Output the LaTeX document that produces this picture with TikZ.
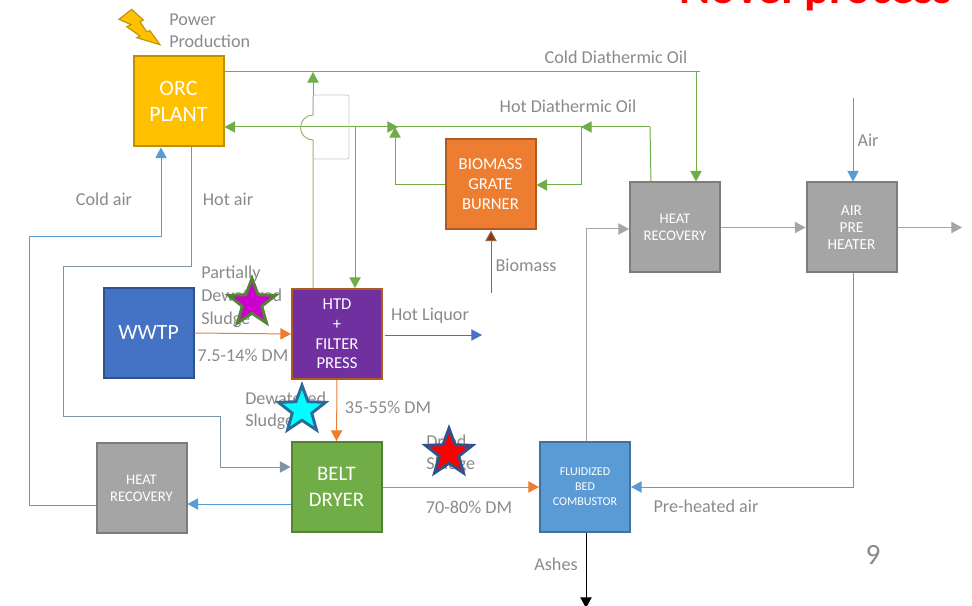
\documentclass[tikz,border=0pt]{standalone}
\usepackage{fontspec}
\setmainfont{Carlito}
\usetikzlibrary{arrows.meta,shapes.geometric}
\definecolor{cgreen}{HTML}{70AD47}
\definecolor{cblue}{HTML}{5B9BD5}
\definecolor{corange}{HTML}{ED7D31}
\definecolor{cgray}{HTML}{A5A5A5}
\definecolor{ctext}{HTML}{8A8A8A}
\definecolor{cyellow}{HTML}{FFC000}
\definecolor{dyellow}{HTML}{BF9000}
\definecolor{dorange}{HTML}{AE5A21}
\definecolor{dgray}{HTML}{7D7D7D}
\definecolor{croyal}{HTML}{4472C4}
\definecolor{droyal}{HTML}{2F528F}
\definecolor{cpurple}{HTML}{7030A0}
\definecolor{dgreen}{HTML}{548235}
\definecolor{dblue}{HTML}{41719C}
\definecolor{cbrown}{HTML}{96643F}
\definecolor{dbrown}{HTML}{843C0C}
\definecolor{hotblue}{HTML}{7F93A8}
\definecolor{cmag}{HTML}{CC00CC}
\definecolor{ccyan}{HTML}{00FFFF}
\definecolor{dcyan}{HTML}{2E6A99}
\definecolor{cbump}{HTML}{C8C8C8}
\newcommand{\fs}[1]{\fontsize{#1}{#1}\selectfont}
\tikzset{
  box/.style={rectangle,draw,line width=1.5pt,minimum width=67.5pt,minimum height=67.5pt,inner sep=0pt,align=center,text=white,font=\fs{10.5}},
  lbl/.style={text=ctext,inner sep=0pt,font=\fs{13.6}},
  tip/.style={-{Triangle[length=8pt,width=8.5pt]}},
  flow/.style={line width=.75pt},
  starmark/.style={star,star points=5,star point ratio=2.4,minimum size=37pt,inner sep=0pt,line width=2.2pt,draw}
}
\begin{document}
\begin{tikzpicture}[x=.75pt,y=-.75pt]
\useasboundingbox (0,0) rectangle (972,606);
\clip (0,0) rectangle (972,606);
% title
\node[text=red,inner sep=0pt,anchor=base,font=\bfseries\fs{35.5}] (title) at (816,4) {Novel process};
% boxes
\node[box,fill=cyellow,draw=dyellow,font=\fs{16.5}] (orc) at (178.5,101.5) {ORC\\[3pt]PLANT};
\node[box,fill=corange,draw=dorange,font=\fs{12.5}] (burner) at (490.5,184.5) {BIOMASS\\[2.5pt]GRATE\\[2.5pt]BURNER};
\node[box,fill=cgray,draw=dgray,font=\fs{11}] (hrtop) at (675,227.5) {HEAT\\[1.75pt]RECOVERY};
\node[box,fill=cgray,draw=dgray,font=\fs{11.5}] (apre) at (851.5,227.5) {AIR\\[1.5pt]PRE\\[1.5pt]HEATER};
\node[box,fill=croyal,draw=droyal,font=\fs{16.3}] (wwtp) at (148.5,333) {WWTP};
\node[box,fill=cpurple,draw=dorange,font=\fs{12.5}] (htd) at (337,334) {HTD\\[2.2pt]+\\[2.2pt]FILTER\\[2.2pt]PRESS};
\node[box,fill=cgreen,draw=dgreen,font=\fs{15.5}] (belt) at (336.5,487) {BELT\\[4pt]DRYER};
\node[box,fill=cgray,draw=dgray,font=\fs{11}] (hrleft) at (141.5,488) {HEAT\\[1.75pt]RECOVERY};
\node[box,fill=cblue,draw=dblue,font=\fs{9}] (fbc) at (585,487) {FLUIDIZED\\[2.25pt]BED\\[2.25pt]COMBUSTOR};
% free ends
\coordinate (coldend) at (700,72);
\coordinate (bumptop) at (313,97);
\coordinate (hotj) at (650,127);
\coordinate (hotbr) at (581,127);
\coordinate (hotl) at (395,127);
\coordinate (biomassin) at (491,293);
\coordinate (liq) at (482,335);
\coordinate (airin) at (853,98);
\coordinate (airout) at (962,227.5);
\coordinate (ashout) at (586,608);
% oil loop
\draw[flow,cgreen] (orc.east |- 0,72) -- (coldend);
\draw[flow,cgreen,tip] (bumptop) -- (313,72);
\draw[flow,cgreen,tip] (696,72) -- (hrtop.north -| 696,0);
\draw[flow,cgreen] (hrtop.north -| 651,0) -- (hotj);
\draw[flow,cgreen,tip] (hotj) -- (orc.east |- 0,127);
\draw[flow,cgreen,tip] (hotj) -- (hotbr);
\draw[flow,cgreen,tip] (hotbr) -- (581,185) -- (burner.east |- 0,185);
\draw[flow,cgreen,tip] (burner.west |- 0,185) -- (395,185) -- (hotl);
\draw[flow,cgreen,tip] (hotl) -- (398,127);
\draw[flow,cgreen,tip] (355,127) -- (htd.north -| 355,0);
\draw[flow,cgreen!80!white] (htd.north -| 313,0) -- (313,140) arc[start angle=90,end angle=270,radius=12.5] -- (bumptop);
\draw[line width=.6pt,cbump] (313,115) -- (313,100) .. controls (313,95) and (313,95) .. (318,95) -- (344,95) .. controls (349,95) and (349,95) .. (349,100) -- (349,154) .. controls (349,159) and (349,159) .. (344,159) -- (318,159) .. controls (313,159) and (313,159) .. (313,154);
% air loops
\draw[flow,cblue,tip] (hrleft.west |- 0,505) -- (29,505) -- (29,237) -- (161,237) -- (orc.south -| 161,0);
\draw[flow,hotblue,tip] (orc.south -| 191,0) -- (191,267) -- (63,267) -- (63,416) -- (220,416) -- (220,467) -- (belt.west |- 0,467);
\draw[flow,cblue,tip] (belt.west |- 0,504) -- (hrleft.east |- 0,504);
\draw[flow,corange,tip] (wwtp.east) -- (htd.west);
\draw[flow,corange,tip] (htd.south) -- (belt.north);
\draw[flow,corange,tip] (belt.east) -- (fbc.west);
\draw[flow,croyal,tip] (385,335) -- (liq);
\draw[flow,cbrown,-{Triangle[length=8pt,width=8.5pt,fill=dbrown]}] (biomassin) -- (burner.south -| 491,0);
\draw[flow,cgray,tip] (fbc.north -| 586,0) -- (586,229) -- (hrtop.west |- 0,229);
\draw[flow,cgray,tip] (hrtop.east) -- (apre.west);
\draw[flow,cgray,tip] (apre.east) -- (airout);
\draw[flow,cblue,tip] (airin) -- (apre.north -| 853,0);
\draw[flow,cblue,tip] (apre.south -| 853,0) -- (853,487) -- (fbc.east);
\draw[flow,black,tip] (fbc.south -| 586,0) -- (ashout);
% labels
\node[lbl,anchor=west,align=left] (power) at (169,30.5) {Power\\[3pt]Production};
\node[lbl] (coldoil) at (616,57) {Cold Diathermic Oil};
\node[lbl] (hotoil) at (568,106) {Hot Diathermic Oil};
\node[lbl] (airlbl) at (868,140) {Air};
\node[lbl] (coldair) at (104,199) {Cold air};
\node[lbl] (hotair) at (228,199) {Hot air};
\node[lbl] (biomass) at (526,265) {Biomass};
\node[lbl,anchor=west,align=left] (partial) at (201,297) {Partially\\[3.6pt]Dewatered\\[3.6pt]Sludge};
\node[lbl] (liquor) at (430,315.5) {Hot Liquor};
\node[lbl] (dm1) at (243,355) {7.5-14\% DM};
\node[lbl] (dm2) at (388,407) {35-55\% DM};
\node[lbl,anchor=west,align=left] (dewsl) at (245,411) {Dewatered\\[3pt]Sludge};
\node[lbl,anchor=west,align=left] (dried) at (426,454) {Dried\\[3pt]Sludge};
\node[lbl] (dm3) at (469,507) {70-80\% DM};
\node[lbl] (preair) at (706,506) {Pre-heated air};
\node[lbl] (ashes) at (556,564) {Ashes};
\node[lbl,font=\fs{22}] (pageno) at (873,555) {9};
% stars
\node[starmark,fill=cmag,draw=dgreen] (s1) at (252,303) {};
\node[starmark,fill=ccyan,draw=dcyan] (s2) at (302,410) {};
\node[starmark,fill=red,draw=droyal] (s3) at (449,453) {};
% bolt
\filldraw[fill=cyellow,draw=dyellow,line width=.8pt] (131.7,9.3) -- (119,19.3) -- (131,24.7) -- (126.7,26.7) -- (140,36) -- (136.7,37.7) -- (160,44.7) -- (150,30.7) -- (146.7,31.7) -- (140,21.7) -- (143.3,20) -- cycle;
\end{tikzpicture}
\end{document}
